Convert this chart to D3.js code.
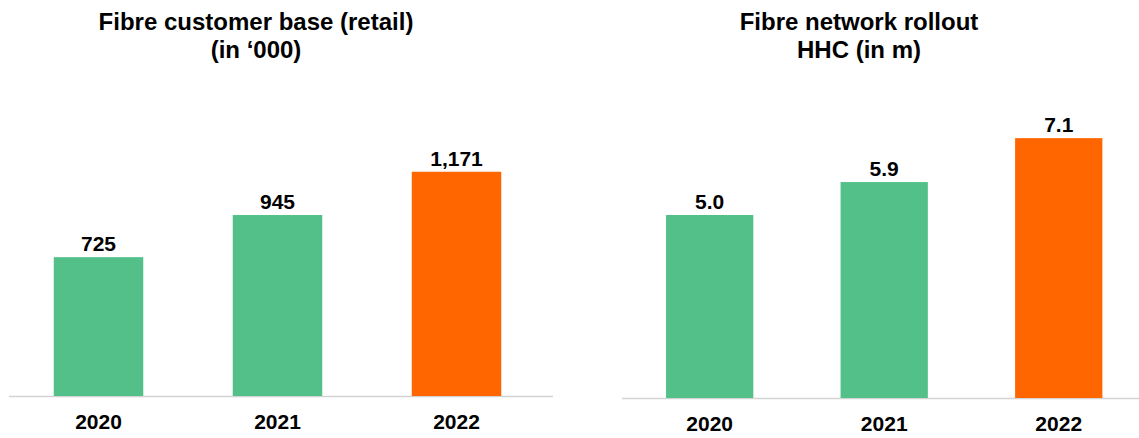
<!DOCTYPE html>
<html>
<head>
<meta charset="utf-8">
<script src="https://cdn.jsdelivr.net/npm/d3@7/dist/d3.min.js"></script>
<style>
  html, body { margin: 0; padding: 0; background: #ffffff; }
  svg { display: block; font-family: "Liberation Sans", Arial, Helvetica, sans-serif; }
</style>
</head>
<body>
<svg id="chart" width="1139" height="438"></svg>
<script>
// ---- data ----
const categories = ["2020", "2021", "2022"];
const customerBase = [725, 945, 1171];          // Fibre customer base (retail), in '000
const customerLabels = ["725", "945", "1,171"];
const networkRollout = [5.0, 5.9, 7.1];         // Fibre network rollout HHC, in m
const networkLabels = ["5.0", "5.9", "7.1"];
const titleLeft = ["Fibre customer base (retail)", "(in \u2018000)"];
const titleRight = ["Fibre network rollout", "HHC (in m)"];
const barColors = ["#52c088", "#52c088", "#ff6600"];

const svg = d3.select("#chart");

function drawPanel(cfg) {
  const g = svg.append("g");
  const x = d3.scaleBand().domain(categories).range(cfg.xRange)
    .paddingInner(0.5).paddingOuter(0.25);
  const y = d3.scaleLinear().domain(cfg.yDomain).range(cfg.yRange);

  // baseline
  g.append("line")
    .attr("x1", cfg.lineX[0]).attr("x2", cfg.lineX[1])
    .attr("y1", y(0) + 0.5).attr("y2", y(0) + 0.5)
    .attr("stroke", "#d3d3d3").attr("stroke-width", 1.5);

  // bars
  g.selectAll("rect.bar").data(cfg.values).join("rect")
    .attr("class", "bar")
    .attr("x", (d, i) => x(categories[i]))
    .attr("width", x.bandwidth())
    .attr("y", d => y(d))
    .attr("height", d => y(0) - y(d))
    .attr("fill", (d, i) => barColors[i]);

  // value labels
  g.selectAll("text.val").data(cfg.values).join("text")
    .attr("class", "val")
    .attr("x", (d, i) => x(categories[i]) + x.bandwidth() / 2)
    .attr("y", d => y(d) - 6)
    .attr("text-anchor", "middle")
    .attr("font-size", 21).attr("font-weight", "bold").attr("fill", "#000")
    .text((d, i) => cfg.labels[i]);

  // x axis labels
  const ax = g.append("g")
    .attr("transform", `translate(0,${y(0)})`)
    .call(d3.axisBottom(x).tickSize(0).tickPadding(18));
  ax.select(".domain").remove();
  ax.selectAll("text")
    .attr("font-size", 21).attr("font-weight", "bold").attr("fill", "#000")
    .attr("font-family", "Liberation Sans, Arial, sans-serif");

  // title
  const t = g.append("text")
    .attr("text-anchor", "middle")
    .attr("font-size", 24).attr("font-weight", "bold").attr("fill", "#000");
  cfg.title.forEach((line, i) => {
    t.append("tspan").attr("x", cfg.titleX).attr("y", 30 + i * 28).text(line);
  });
}

drawPanel({
  values: customerBase, labels: customerLabels, title: titleLeft,
  xRange: [9, 546], lineX: [9, 553],
  yDomain: [0, 1500], yRange: [396, 396 - 1500 * 0.1915],
  titleX: 256
});

drawPanel({
  values: networkRollout, labels: networkLabels, title: titleRight,
  xRange: [622.4, 1146], lineX: [622, 1139],
  yDomain: [0, 8], yRange: [398, 398 - 8 * 36.6],
  titleX: 859
});
</script>
</body>
</html>
